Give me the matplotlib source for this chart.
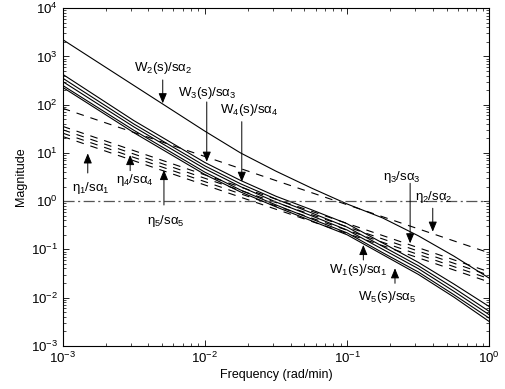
import numpy as np
import matplotlib
matplotlib.use('Agg')
import matplotlib.pyplot as plt

plt.rcParams['font.family'] = ['Liberation Sans', 'DejaVu Sans']
plt.rcParams['mathtext.fontset'] = 'custom'
plt.rcParams['mathtext.rm'] = 'Liberation Sans'
plt.rcParams['mathtext.it'] = 'Liberation Sans'
plt.rcParams['mathtext.bf'] = 'Liberation Sans:bold'
plt.rcParams['lines.scale_dashes'] = False

# frequency points (rad/min)
freq = [0.001, 0.003162, 0.01, 0.01778, 0.03162, 0.05623, 0.1, 0.1778, 0.3162, 0.5623, 1.0]

# W_i(s)/s alpha_i magnitudes (solid)
w_top = [2239, 251, 28.2, 10.0, 4.17, 1.86, 0.871, 0.447, 0.191, 0.0724, 0.0251]
w_lines = [
    [427, 46.8, 6.31, 2.69, 1.259, 0.661, 0.339, 0.135, 0.0537, 0.0191, 0.00646],
    [355, 39.8, 5.37, 2.29, 1.096, 0.569, 0.288, 0.115, 0.0457, 0.0158, 0.00513],
    [302, 34.7, 4.68, 2.00, 0.955, 0.495, 0.251, 0.100, 0.0398, 0.0135, 0.00437],
    [251, 29.5, 3.98, 1.70, 0.832, 0.427, 0.219, 0.0851, 0.0339, 0.01148, 0.00372],
    [229, 26.3, 3.55, 1.55, 0.759, 0.389, 0.200, 0.0776, 0.0302, 0.01023, 0.00316],
]

# eta_i/s alpha_i magnitudes (dashed), given at the two ends
eta_freq = [0.001, 1.0]
eta_top = [84.1, 0.0841]
eta_lines = [
    [35.5, 0.0339],
    [30.2, 0.0288],
    [25.7, 0.0245],
    [21.9, 0.0209],
]

# text labels: (text, x, y)
labels = [
    (r'W$_2$(s)/s$\alpha_2$', 0.00505, 575),
    (r'W$_3$(s)/s$\alpha_3$', 0.01035, 175),
    (r'W$_4$(s)/s$\alpha_4$', 0.0204, 77.6),
    (r'$\eta_1$/s$\alpha_1$', 0.00158, 1.87),
    (r'$\eta_4$/s$\alpha_4$', 0.00324, 2.74),
    (r'$\eta_5$/s$\alpha_5$', 0.00533, 0.386),
    (r'$\eta_3$/s$\alpha_3$', 0.2438, 3.21),
    (r'$\eta_2$/s$\alpha_2$', 0.409, 1.22),
    (r'W$_1$(s)/s$\alpha_1$', 0.119, 0.0371),
    (r'W$_5$(s)/s$\alpha_5$', 0.190, 0.0104),
]
# arrows: (x, y_tail, y_tip)
arrows = [
    (0.00505, 326, 107),
    (0.0103, 114, 6.56),
    (0.01816, 44.4, 2.51),
    (0.0015, 3.83, 9.77),
    (0.00298, 4.28, 9.04),
    (0.00515, 0.83, 4.42),
    (0.2773, 2.34, 0.133),
    (0.40, 0.71, 0.232),
    (0.130, 0.060, 0.123),
    (0.217, 0.0197, 0.0404),
]

fig = plt.figure(figsize=(5.05, 3.89), dpi=100)
ax = fig.add_axes([0.1242, 0.1113, 0.8448, 0.8674])

ax.plot(freq, w_top, color='k', lw=0.8)
for w in w_lines:
    ax.plot(freq, w, color='k', lw=0.8)

ax.plot(eta_freq, eta_top, color='k', lw=0.8, dashes=(5.5, 5))
for e in eta_lines:
    ax.plot(eta_freq, e, color='k', lw=0.8, dashes=(5.5, 5))

ax.axhline(1.0, color='#555555', lw=0.9, dashes=(8, 2.5, 1.5, 2.5))

for txt, x, y in labels:
    ax.text(x, y, txt, ha='center', va='center', fontsize=9.5)
for x, y0, y1 in arrows:
    ax.annotate('', xy=(x, y1), xytext=(x, y0),
                arrowprops=dict(arrowstyle='-|>,head_length=0.6,head_width=0.25',
                                color='k', lw=0.7, shrinkA=0, shrinkB=0,
                                mutation_scale=10))

ax.set_xscale('log')
ax.set_yscale('log')
ax.set_xlim(1e-3, 1)
ax.set_ylim(1e-3, 1e4)
ax.set_yticks([1e-3, 1e-2, 1e-1, 1, 1e1, 1e2, 1e3, 1e4])
ax.tick_params(which='both', direction='in', top=True, right=True, labelsize=9.5)
ax.tick_params(which='major', length=4, width=0.6)
ax.tick_params(which='minor', length=2, width=0.5)
ax.yaxis.set_minor_locator(matplotlib.ticker.LogLocator(base=10, subs=np.arange(2, 10), numticks=20))
for s in ax.spines.values():
    s.set_linewidth(0.8)

ax.set_xlabel('Frequency (rad/min)', fontsize=9, labelpad=2)
ax.set_ylabel('Magnitude', fontsize=9, labelpad=3)

fig.savefig('out.png', dpi=100)
